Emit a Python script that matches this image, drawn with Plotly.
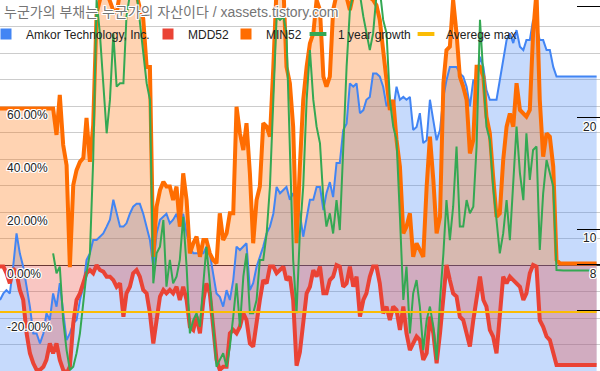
import plotly.graph_objects as go
import pandas as pd

# ---------------- data ----------------
dates = pd.date_range("2010-01-01", periods=180, freq="MS")

amkor = [
    6.42, 6.69, 6.83, 6.69, 7.90, 9.73, 8.59, 7.90, 6.98, 6.16, 5.21, 5.21, 4.90, 5.21, 5.91, 5.67, 6.69, 6.16,
    7.13, 5.91, 5.00, 5.21, 5.55, 5.67, 6.42, 6.98, 8.24, 8.59, 9.34, 9.34, 9.53, 9.73, 10.15, 10.6, 12.0, 11.0,
    10.15, 10.15, 10.36, 11.0, 11.5, 11.7, 11.7, 11.0, 10.15, 9.34, 7.90, 9.73, 10.6, 10.8, 11.0, 10.36, 10.6, 11.0,
    10.15, 11.0, 9.73, 8.96, 8.59, 8.59, 8.59, 8.59, 8.96, 8.59, 7.58, 6.69, 6.55, 6.16, 6.83, 6.42, 7.27, 8.96,
    8.77, 8.96, 9.15, 6.83, 7.13, 7.90, 8.41, 8.96, 9.73, 10.15, 11.0, 13.0, 12.5, 12.75, 13.0, 12.0, 12.5, 12.0,
    11.0, 9.53, 10.8, 12.0, 12.0, 13.0, 13.0, 11.26, 12.5, 13.4, 12.2, 15.1, 15.1, 18.55, 19.3, 24.8, 24.3, 24.8,
    20.6, 21.0, 22.4, 22.8, 26.4, 26.4, 25.9, 24.3, 21.5, 22.4, 21.0, 24.3, 22.4, 22.8, 22.4, 22.8, 18.55, 18.9,
    20.6, 17.1, 17.4, 22.4, 19.7, 17.4, 18.55, 22.8, 25.3, 27.5, 27.5, 27.5, 26.4, 25.9, 24.3, 21.5, 25.3, 25.3,
    29.3, 27.5, 23.8, 22.4, 22.4, 22.4, 25.3, 28.7, 32.5, 33.9, 31.9, 34.6, 31.2, 30.55, 32.5, 32.5, 36.85, 35.35,
    32.5, 32.5, 30.55, 30.55, 27.5, 25.9, 25.9, 25.9, 25.9, 25.9, 25.9, 25.9, 25.9, 25.9, 25.9, 25.9, 25.9, 25.9,
]

mdd52 = [
    -0.6, -0.6, -3.1, -6.9, -1.3, -3.1, -9.4, -13.2, -25.8, -33.3, -37.1, -39.6, -39.6, -38.4, -35.8, -29.6, -33.3, -29.6,
    -35.8, -39.6, -40.9, -38.4, -22.0, -13.2, -10.7, -6.9, -3.1, -1.9, -3.1, 0.0, -1.9, -2.5, -4.4, -4.4, -5.7, -8.2,
    -6.9, -19.5, -10.7, -8.2, -3.1, -1.9, -4.4, -9.4, -10.7, -18.2, -29.6, -20.8, -11.9, -9.4, -10.7, -9.4, -10.7, -8.2,
    -13.2, -8.2, -13.2, -23.3, -24.5, -19.5, -25.8, -13.2, -6.9, -10.7, -22.0, -35.8, -39.6, -38.4, -38.4, -25.8, -24.5, -25.8,
    -23.3, -18.2, -20.8, -29.6, -30.8, -20.8, -13.2, -5.7, -6.9, -0.6, -0.6, -3.1, -1.9, -0.6, -5.7, -4.4, -13.2, -38.0,
    -33.0, -23.3, -10.7, -8.2, -1.9, -4.4, -0.6, -10.7, -10.7, -5.7, -4.4, 0.0, -0.6, -8.2, -6.9, -0.6, -8.2, -4.4,
    -19.5, -13.2, -10.7, -4.4, -0.6, -0.6, -6.9, -18.2, -15.7, -20.8, -15.7, -17.0, -24.5, -15.7, -25.8, -32.1, -29.6, -27.0,
    -28.3, -35.8, -33.3, -19.5, -25.8, -37.1, -25.8, -10.7, 0.0, -5.7, -10.7, -11.9, -19.5, -20.8, -25.8, -30.8, -20.8, -13.2,
    -4.4, -13.2, -15.7, -24.5, -27.0, -33.3, -20.8, -4.4, -6.9, -4.4, -5.7, -6.9, -8.2, -13.2, -10.7, -3.1, 0.0, -0.6,
    -20.8, -23.3, -27.0, -28.3, -33.3, -37.7, -37.7, -37.7, -37.7, -37.7, -37.7, -37.7, -37.7, -37.7, -37.7, -37.7, -37.7, -37.7,
]

min52 = [
    59.1, 59.1, 59.1, 59.1, 59.1, 59.1, 59.1, 59.1, 59.1, 59.1, 59.1, 59.1, 59.1, 59.1, 59.1, 59.1, 59.1, 49.1,
    64.2, 45.3, 37.7, -0.8, 30.2, 35.8, 38.9, 40.4, 55.5, 38.9, 52.8, 95.0, 100.0, 105.0, 103.0, 100.0, 96.0, 95.0,
    103.0, 104.0, 105.0, 104.0, 103.0, 102.0, 97.0, 93.0, 74.7, 74.7, 3.1, 22.0, 28.3, 31.4, 29.6, 29.6, 24.5, 29.6,
    14.5, 34.6, 24.5, 4.4, 8.2, 10.7, 3.1, 9.4, 9.4, 4.4, 1.9, 0.6, 19.5, 9.4, 11.9, 19.5, 19.5, 59.7,
    49.7, 43.4, 53.5, 34.6, 8.2, 24.5, 29.6, 53.5, 52.2, 48.4, 74.8, 105.0, 108.0, 105.0, 74.8, 68.6, 52.2, 8.2,
    37.1, 62.3, 74.8, 83.6, 87.4, 100.0, 96.2, 71.1, 67.3, 71.1, 96.2, 102.0, 104.0, 103.0, 101.0, 96.2, 102.0, 104.0,
    102.0, 104.0, 103.0, 101.0, 100.0, 98.0, 92.5, 81.1, 68.6, 58.5, 62.3, 47.2, 37.1, 11.9, 14.5, 19.5, 3.1, 8.2,
    5.7, 3.1, 29.6, 48.4, 32.1, 11.9, 18.2, 68.6, 81.1, 82.4, 100.0, 87.4, 71.1, 67.3, 62.3, 42.1, 47.2, 74.8,
    74.8, 71.1, 56.0, 49.7, 33.3, 18.2, 19.5, 39.6, 52.2, 57.2, 52.2, 68.6, 58.5, 57.2, 56.0, 58.5, 87.4, 103.0,
    62.3, 40.9, 49.7, 48.4, 37.1, 1.9, 0.6, 0.6, 0.6, 0.6, 0.6, 0.6, 0.6, 0.6, 0.6, 0.6, 0.6, 0.6,
]

growth = [
    None, None, None, None, None, None, None, None, None, None, None, None, None, None, None, None, 4.4, -3.1,
    -0.6, -20.8, -32.1, -39.6, -38.4, -33.3, -25.8, -13.2, -3.1, 4.4, 39.6, 100.0, 87.4, 68.6, 49.7, 62.3, 87.4, 67.3,
    68.6, 68.6, 93.7, 102.0, 105.0, 103.0, 92.5, 81.1, 68.6, 62.3, -6.9, 4.4, 6.9, 17.0, -8.2, 1.9, -6.9, -4.4,
    1.9, 18.2, -0.6, -25.8, -20.8, -18.2, -23.3, -6.9, 6.9, -6.9, -23.3, -38.4, -35.8, -33.3, -38.4, -30.8, -19.5, -6.9,
    -23.3, -4.4, 4.4, -18.2, -18.2, -13.2, 1.9, 1.9, 11.9, 29.6, 62.3, 93.7, 92.5, 93.7, 87.4, 43.4, 1.9, -18.2,
    11.9, 29.6, 62.3, 81.1, 62.3, 52.2, 45.9, 24.5, 14.5, 19.5, 11.9, 24.5, 13.2, 43.4, 74.8, 96.2, 102.0, 104.0,
    102.0, 93.7, 87.4, 81.1, 87.4, 102.0, 104.0, 92.5, 87.4, 62.3, 52.2, 47.2, 18.2, -13.2, -0.6, -25.8, -10.7, -5.7,
    -15.7, -32.1, -20.8, -15.7, -23.3, -35.8, -13.2, 4.4, 24.5, 9.4, 22.0, 44.7, 14.5, 14.5, 24.5, 19.5, 22.0, 44.7,
    92.5, 68.6, 52.2, 47.2, 29.6, 17.0, 4.4, 11.9, 24.5, 9.4, 29.6, 52.2, 34.6, 24.5, 49.7, 32.1, 43.4, 44.7,
    5.7, 27.0, 39.6, 34.6, 29.6, -1.9, -2.1, -2.1, -2.1, -2.1, -2.1, -2.1, -2.1, -2.1, -2.1, -2.1, -2.1, -2.1,
]

AVG_MAX = -17.7
avg_max = [AVG_MAX] * len(dates)

series_names = ["Amkor Technology, Inc.", "MDD52", "MIN52", "1 year growth", "Averege max"]
pct_ticks = [-40, -30, -20, -10, 0, 10, 20, 30, 40, 50, 60, 70, 80, 90, 100]
pct_labels = ["", "", "-20.00%", "", "0.00%", "", "20.00%", "", "40.00%", "", "60.00%", "", "", "", ""]
price_ticks = [6, 8, 10, 20, 40]
price_labels = ["", "8", "10", "20", ""]

TITLE = "누군가의 부채는 누군가의 자산이다 / xassets.tistory.com"

# ---------------- styling ----------------
BLUE, RED, ORANGE, GREEN, YELLOW = "#4285F4", "#EA4335", "#FF6D01", "#34A853", "#FBBC04"
COLORS = [BLUE, RED, ORANGE, GREEN, YELLOW]
FONT = "Liberation Sans, Arial, Noto Sans CJK KR, sans-serif"
HALO = ("1px 0px 0px #fff, -1px 0px 0px #fff, 0px 1px 0px #fff, 0px -1px 0px #fff, "
        "1px 1px 0px #fff, -1px -1px 0px #fff, 1px -1px 0px #fff, -1px 1px 0px #fff")
PRICE_RANGE = [0.6152, 1.6206]
PCT_RANGE = [-40, 100]
LEGEND_X_PX = [-14, 148, 226, 298, 406]   # left edge of each legend entry
W, H = 600, 371

fig = go.Figure()

# --- area fills (drawn first, like the original chart) ---
fig.add_trace(go.Scatter(x=dates, y=amkor, yaxis="y", mode="lines", line=dict(width=0, color=BLUE),
                         fill="tozeroy", fillcolor="rgba(66,133,244,0.3)", showlegend=False, hoverinfo="skip"))
fig.add_trace(go.Scatter(x=dates, y=mdd52, yaxis="y2", mode="lines", line=dict(width=0, color=RED),
                         fill="tozeroy", fillcolor="rgba(234,67,53,0.3)", showlegend=False, hoverinfo="skip"))
fig.add_trace(go.Scatter(x=dates, y=min52, yaxis="y2", mode="lines", line=dict(width=0, color=ORANGE),
                         fill="tozeroy", fillcolor="rgba(255,109,1,0.3)", showlegend=False, hoverinfo="skip"))

# --- lines on top ---
fig.add_trace(go.Scatter(x=dates, y=amkor, name=series_names[0], yaxis="y3", mode="lines",
                         line=dict(color=BLUE, width=2), showlegend=False))
fig.add_trace(go.Scatter(x=dates, y=mdd52, name=series_names[1], yaxis="y4", mode="lines",
                         line=dict(color=RED, width=4), showlegend=False))
fig.add_trace(go.Scatter(x=dates, y=min52, name=series_names[2], yaxis="y4", mode="lines",
                         line=dict(color=ORANGE, width=4), showlegend=False))
fig.add_trace(go.Scatter(x=dates, y=growth, name=series_names[3], yaxis="y4", mode="lines",
                         line=dict(color=GREEN, width=2), showlegend=False))
fig.add_trace(go.Scatter(x=dates, y=avg_max, name=series_names[4], yaxis="y4", mode="lines",
                         line=dict(color=YELLOW, width=2), showlegend=False))

# legend entries, one legend box each so they sit where the original puts them
legend_layout = {}
for i, (nm, col) in enumerate(zip(series_names, COLORS)):
    if i < 3:
        mk = dict(symbol="square", size=11, color=col, line=dict(width=0))
    else:
        mk = dict(symbol="line-ew-open", size=12, color=col, line=dict(width=4, color=col))
    key = "legend" if i == 0 else f"legend{i + 1}"
    fig.add_trace(go.Scatter(x=[None], y=[None], name=nm, mode="markers", marker=mk,
                             yaxis="y4", showlegend=True, legend=key))
    legend_layout[key] = dict(orientation="h", x=LEGEND_X_PX[i] / W, xanchor="left",
                              y=1 - 34 / H, yanchor="middle", bgcolor="rgba(0,0,0,0)",
                              font=dict(family=FONT, size=12, color="#222222"), itemwidth=30)

hidden = dict(showgrid=False, zeroline=False, showticklabels=False, ticks="", showline=False)

fig.update_layout(
    width=W, height=H,
    margin=dict(l=0, r=0, t=0, b=0, autoexpand=False),
    paper_bgcolor="white", plot_bgcolor="white",
    font=dict(family=FONT, size=12, color="#222222"),
    title=dict(text=TITLE, x=4 / W, xanchor="left", y=1 - 12 / H, yanchor="middle",
               font=dict(family=FONT, size=14, color="#757575", shadow=HALO)),
    showlegend=True,
    hovermode=False,
    xaxis=dict(range=[dates[0], pd.Timestamp("2025-01-01")], **hidden),
    yaxis=dict(type="log", side="right", range=PRICE_RANGE,
               tickvals=price_ticks, ticktext=price_labels,
               ticks="inside", ticklen=23, tickwidth=1, tickcolor="#000000",
               ticklabelposition="inside", ticklabelshift=9, ticklabelstandoff=-20,
               tickfont=dict(size=12, color="#222222", shadow=HALO),
               showgrid=False, zeroline=False, showline=False),
    yaxis2=dict(overlaying="y", side="left", range=PCT_RANGE,
                tickvals=pct_ticks, ticktext=pct_labels,
                ticks="", ticklabelposition="inside", ticklabelshift=9, ticklabelstandoff=4,
                tickfont=dict(size=12, color="#222222", shadow=HALO),
                showgrid=True, gridcolor="#cccccc", gridwidth=1,
                zeroline=True, zerolinecolor="#333333", zerolinewidth=1, showline=False),
    yaxis3=dict(overlaying="y", side="right", type="log", range=PRICE_RANGE, **hidden),
    yaxis4=dict(overlaying="y", side="left", range=PCT_RANGE, **hidden),
    **legend_layout,
)

fig.write_html("out.html", config={"displayModeBar": False},
               post_script="document.body.style.margin='0px';")
